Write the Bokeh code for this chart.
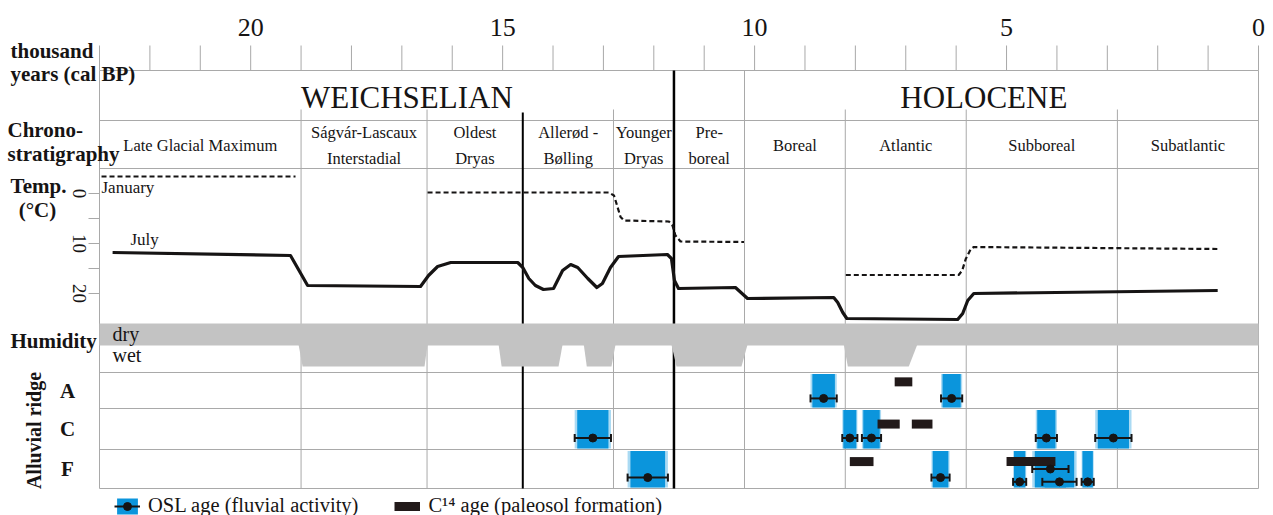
import math

import numpy as np
from bokeh.core.properties import value
from bokeh.embed import file_html
from bokeh.models import Label, Legend, LegendItem, Range1d
from bokeh.plotting import figure
from bokeh.resources import INLINE

# ---------------------------------------------------------------- data
# chronostratigraphic units (boundaries in ka cal BP, oldest first)
period_names = ["Late Glacial Maximum", "Ságvár-Lascaux\nInterstadial", "Oldest\nDryas",
                "Allerød -\nBølling", "Younger\nDryas", "Pre-\nboreal", "Boreal",
                "Atlantic", "Subboreal", "Subatlantic"]
period_bounds = [23.0, 19.0, 16.5, 14.6, 12.8, 11.6, 10.2, 8.2, 5.8, 2.8, 0.0]
bold_bounds = [14.6, 11.6]
header_bounds = [11.6, 10.2]

stage_names = ["WEICHSELIAN", "HOLOCENE"]
stage_centres = [16.9, 5.45]

# time scale (thousand years cal BP) and temperature scale (°C)
time_ticks = list(range(0, 24))
time_labels = [20, 15, 10, 5, 0]
temp_ticks = [0, 5, 10, 15, 20]
temp_labels = [0, 10, 20]

# mean July temperature (°C)
july_age = [22.74, 19.21, 18.87, 16.63, 16.47, 16.29, 16.03, 14.70, 14.60, 14.48, 14.35,
            14.19, 13.99, 13.91, 13.81, 13.65, 13.51, 13.31, 13.13, 13.02, 12.86, 12.70,
            11.73, 11.65, 11.59, 11.51, 10.38, 10.14, 8.43, 8.35, 8.25, 8.17, 5.97, 5.87,
            5.77, 5.65, 0.81]
july_temp = [11.8, 12.4, 18.4, 18.6, 16.4, 14.6, 13.8, 13.8, 14.8, 17.0, 18.4,
             19.2, 19.0, 17.4, 15.4, 14.2, 14.8, 17.0, 18.8, 18.0, 14.8, 12.6,
             12.2, 13.0, 17.4, 19.0, 18.8, 21.0, 20.8, 21.8, 23.8, 25.0, 25.2, 24.0,
             21.4, 20.0, 19.4]

# mean January temperature (°C), three reconstructed stretches
jan_age = [[22.96, 19.11],
           [16.49, 12.96, 12.89, 12.79, 12.72, 12.66, 12.59, 11.70, 11.63, 11.57, 11.47, 10.21],
           [8.19, 5.95, 5.88, 5.81, 5.71, 5.65, 0.79]]
jan_temp = [[-3.4, -3.4],
            [-0.2, -0.2, -0.2, 0.4, 2.7, 4.7, 5.4, 5.6, 6.4, 8.4, 9.6, 9.7],
            [16.3, 16.3, 15.4, 13.1, 11.1, 10.7, 11.1]]

# wet phases of the humidity curve (onset/end at the dry level and at full wet level)
wet_top_start = [19.05, 15.08, 13.39, 11.65, 8.23]
wet_top_end = [16.49, 13.81, 12.76, 10.14, 6.77]
wet_bot_start = [18.97, 15.02, 13.33, 11.55, 8.15]
wet_bot_end = [16.55, 13.89, 12.84, 10.26, 6.94]

# OSL ages (fluvial activity) per alluvial ridge
ridges = ["A", "C", "F"]
osl_ridge = ["A", "A", "C", "C", "C", "C", "C", "F", "F", "F", "F", "F", "F"]
osl_age = [8.63, 6.09, 13.21, 8.11, 7.68, 4.21, 2.88, 12.12, 6.31, 4.74, 4.13, 3.95, 3.39]
osl_err = [0.26, 0.21, 0.36, 0.15, 0.19, 0.21, 0.36, 0.40, 0.18, 0.13, 0.36, 0.34, 0.12]

# C14 ages (paleosol formation) per alluvial ridge
c14_ridge = ["A", "C", "C", "F", "F"]
c14_from = [7.22, 7.56, 6.88, 8.11, 5.00]
c14_to = [6.87, 7.12, 6.47, 7.64, 4.03]

# ---------------------------------------------------------------- layout
W, H = 1273, 515
FL, FR, FT, FB = 99, 1258, 70, 488          # table area in page pixels
AGE_OLD, AGE_YOUNG = 23.0, 0.0
KA_PER_PX = (AGE_OLD - AGE_YOUNG) / (FR - FL)
X_START = AGE_OLD + FL * KA_PER_PX
X_END = AGE_YOUNG - (W - FR) * KA_PER_PX
Y_TOP = FB - FT                              # table coordinate: 0 at bottom of table

CHRONO_TOP, CHRONO_BOT = 368, 320
LINE_TOP = 379
DRY_TOP, DRY_BOT, WET_BOT = 165, 143, 122
ROW_TOP = {"A": 116, "C": 80, "F": 39}
ROW_BOT = {"A": 80, "C": 39, "F": 0}
LANE = {"high": 0.5, "mid": 0.72, "low": 0.83}
osl_lane = ["mid", "mid", "mid", "mid", "mid", "mid", "mid", "mid", "mid", "low", "high", "low", "low"]
C14_LEVEL = {"A": 0.26, "C": 0.38, "F": 0.31}
C14_HALF = 4.5

# temperature panel: 0 °C at 295, 5 units per degree, warmer downwards
T_ZERO, T_SCALE = 295.0, 5.0

SERIF = "Liberation Serif"
INK = "#161414"
GRID = "#a9a9a9"
HUMID = "#c3c3c3"
BLUE = "#0b95dc"
C14_COLOR = "#221a1a"


def age_at(px):
    return X_START + px * (X_END - X_START) / W


def lvl(py):
    return FB - py


p = figure(width=W, height=H, x_range=Range1d(X_START, X_END), y_range=Range1d(FB - H, FB),
           min_border=0, min_border_left=0, min_border_right=0, min_border_top=0,
           min_border_bottom=0, x_axis_location=None, y_axis_location=None,
           toolbar_location=None, output_backend="svg", background_fill_color="white",
           border_fill_color="white", outline_line_color=None)
p.grid.visible = False
p.extra_y_ranges = {"temp": Range1d(start=(T_ZERO - (FB - H)) / T_SCALE,
                                    end=(T_ZERO - FB) / T_SCALE)}

# ---------------------------------------------------------------- scales
# time scale along the top
p.segment(x0=time_ticks, x1=time_ticks, y0=[Y_TOP] * len(time_ticks),
          y1=[lvl(45)] * len(time_ticks), line_color=GRID, line_width=1)
p.text(x=time_labels, y=[lvl(27)] * len(time_labels), text=[str(t) for t in time_labels],
       text_align="center", text_baseline="middle", text_font=value(SERIF),
       text_font_size="26px", text_color=INK)

# temperature scale on the left
p.segment(x0=[age_at(88)] * len(temp_ticks), x1=[AGE_OLD] * len(temp_ticks),
          y0=temp_ticks, y1=temp_ticks, y_range_name="temp", line_color=GRID, line_width=1)
p.text(x=[age_at(79)] * len(temp_labels), y=temp_labels, text=[str(t) for t in temp_labels],
       y_range_name="temp", angle=-math.pi / 2, text_align="center", text_baseline="middle",
       text_font=value(SERIF), text_font_size="19px", text_color=INK)

# ---------------------------------------------------------------- table grid
inner = period_bounds[1:-1]
thin = [b for b in inner if b not in bold_bounds]
p.segment(x0=thin, x1=thin, y0=[0] * len(thin),
          y1=[Y_TOP if b in header_bounds else LINE_TOP for b in thin],
          line_color=GRID, line_width=1)
hlines = [Y_TOP, CHRONO_TOP, CHRONO_BOT, ROW_TOP["A"], ROW_TOP["C"], ROW_TOP["F"], 0]
p.segment(x0=[AGE_OLD] * len(hlines), x1=[AGE_YOUNG] * len(hlines), y0=hlines, y1=hlines,
          line_color=GRID, line_width=1)
p.segment(x0=[AGE_OLD, AGE_YOUNG], x1=[AGE_OLD, AGE_YOUNG], y0=[0, 0], y1=[Y_TOP, Y_TOP],
          line_color=GRID, line_width=1)
p.segment(x0=bold_bounds, x1=bold_bounds, y0=[0, 0],
          y1=[Y_TOP if b in header_bounds else LINE_TOP - 3 for b in bold_bounds],
          line_color="black", line_width=[2, 2.5])

# stage and period names
p.text(x=stage_centres, y=[lvl(97)] * 2, text=stage_names, text_align="center",
       text_baseline="middle", text_font=value(SERIF), text_font_size="31px", text_color=INK)
centres = [(a + b) / 2 for a, b in zip(period_bounds[:-1], period_bounds[1:])]
p.text(x=centres, y=[lvl(145)] * len(centres), text=period_names, text_align="center",
       text_baseline="middle", text_font=value(SERIF), text_font_size="16.5px",
       text_line_height=1.35, text_color=INK)

# ---------------------------------------------------------------- temperatures
p.multi_line(xs=jan_age, ys=jan_temp, y_range_name="temp", line_color=INK, line_width=2.2,
             line_dash="5 3")
p.line(x=july_age, y=july_temp, y_range_name="temp", line_color=INK, line_width=3.2,
       line_join="round")

# ---------------------------------------------------------------- humidity
p.quad(left=[AGE_OLD], right=[AGE_YOUNG], bottom=[DRY_BOT], top=[DRY_TOP],
       fill_color=HUMID, line_color=None)
p.patches(xs=[[a, b, c, d] for a, b, c, d in zip(wet_top_start, wet_top_end, wet_bot_end, wet_bot_start)],
          ys=[[DRY_BOT + 1, DRY_BOT + 1, WET_BOT, WET_BOT]] * len(wet_top_start),
          fill_color=HUMID, line_color=None)

# ---------------------------------------------------------------- alluvial ridges
box_top = [ROW_TOP[r] - 1.5 for r in osl_ridge]
box_bot = [ROW_BOT[r] + 1 for r in osl_ridge]
osl_core = None
for k, alpha in [(1.0, 0.35), (0.86, 1.0)]:
    osl_core = p.quad(left=[a + e * k for a, e in zip(osl_age, osl_err)],
                      right=[a - e * k for a, e in zip(osl_age, osl_err)],
                      top=box_top, bottom=box_bot, fill_color=BLUE, fill_alpha=alpha, line_color=None)

c14_y = [ROW_TOP[r] - C14_LEVEL[r] * (ROW_TOP[r] - ROW_BOT[r]) for r in c14_ridge]
p.quad(left=c14_from, right=c14_to, top=[y + C14_HALF for y in c14_y],
       bottom=[y - C14_HALF for y in c14_y], fill_color=C14_COLOR, line_color=None)

dot_y = [ROW_TOP[r] - LANE[l] * (ROW_TOP[r] - ROW_BOT[r]) for r, l in zip(osl_ridge, osl_lane)]
osl_bar = p.segment(x0=[a + e for a, e in zip(osl_age, osl_err)],
                    x1=[a - e for a, e in zip(osl_age, osl_err)],
                    y0=dot_y, y1=dot_y, line_color=INK, line_width=2)
cap_x = [a + e for a, e in zip(osl_age, osl_err)] + [a - e for a, e in zip(osl_age, osl_err)]
cap_y = dot_y + dot_y
p.segment(x0=cap_x, x1=cap_x, y0=[y - 4 for y in cap_y], y1=[y + 4 for y in cap_y],
          line_color=INK, line_width=2)
osl_dot = p.scatter(x=osl_age, y=dot_y, size=8, marker="circle", fill_color=INK, line_color=INK)

# legend key for the C14 bars (a thick, undrawn line)
c14_key = p.line(x=np.array([np.nan]), y=np.array([np.nan]), line_color=C14_COLOR,
                 line_width=9, line_cap="butt")

# ---------------------------------------------------------------- side labels


def note(text, px, py, size, bold=False, align="left", angle=0.0, color=INK):
    p.add_layout(Label(x=age_at(px), y=lvl(py), text=text, text_align=align,
                       text_baseline="middle", text_font=SERIF, text_font_size=size,
                       text_font_style="bold" if bold else "normal", text_color=color,
                       angle=angle))


note("thousand", 10, 50, "21px", bold=True)
note("years (cal BP)", 10, 73, "21px", bold=True)
note("Chrono-", 7, 129, "21px", bold=True)
note("stratigraphy", 7, 153, "21px", bold=True)
note("Temp.", 38, 185, "21px", bold=True, align="center")
note("(°C)", 37, 209, "21px", bold=True, align="center")
note("Humidity", 10, 340, "21px", bold=True)
note("Alluvial ridge", 33, 430, "20px", bold=True, align="center", angle=math.pi / 2)
for r in ridges:
    note(r, 67, FB - (ROW_TOP[r] + ROW_BOT[r]) / 2, "21px", bold=True, align="center")

note("January", 101, 187, "17px")
note("July", 130, 239, "17px")
note("dry", 112, 333, "20px")
note("wet", 112, 354, "20px")

# ---------------------------------------------------------------- legend
legend = Legend(items=[LegendItem(label=value("OSL age (fluvial activity)"),
                                  renderers=[osl_core, osl_bar, osl_dot]),
                       LegendItem(label=value("C¹⁴ age (paleosol formation)"), renderers=[c14_key])],
                orientation="horizontal", location=(114, -2), padding=0, margin=0, spacing=36,
                glyph_width=26, glyph_height=20, label_standoff=8, label_height=20,
                label_text_font=SERIF, label_text_font_size="20.5px", label_text_color=INK,
                border_line_alpha=0, background_fill_alpha=0)
p.add_layout(legend, "center")

open("out.html", "w").write(file_html(p, INLINE))
